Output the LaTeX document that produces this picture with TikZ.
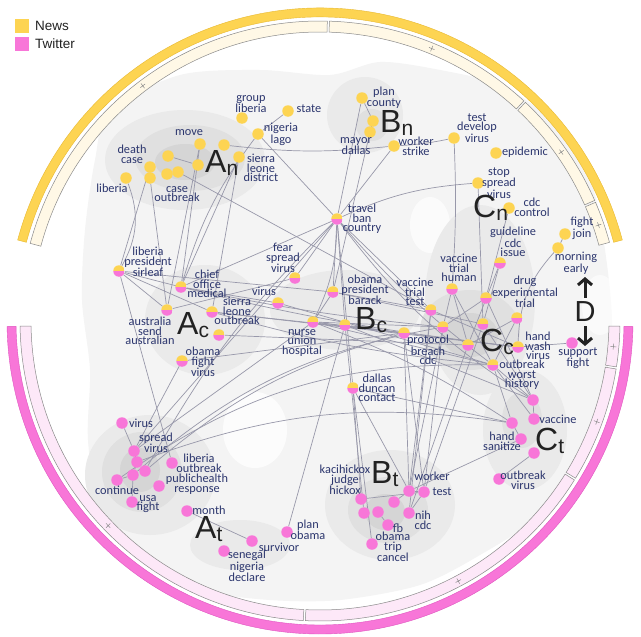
\documentclass[tikz,border=0pt]{standalone}
\usepackage{fontspec}
\setmainfont{Liberation Sans}
\newfontfamily\labfont{Carlito}
\usetikzlibrary{calc,arrows.meta}
\definecolor{nyel}{HTML}{FDD452}
\definecolor{nyeld}{HTML}{E8B830}
\definecolor{tpink}{HTML}{F876D8}
\definecolor{tpinkd}{HTML}{E055C0}
\definecolor{paley}{HTML}{FFF8E6}
\definecolor{palep}{HTML}{FDE8F8}
\definecolor{ringg}{HTML}{8A8A8A}
\definecolor{labc}{RGB}{44,54,110}
\definecolor{edgec}{HTML}{9898AA}
\definecolor{bigc}{HTML}{222222}
\definecolor{bga}{HTML}{F4F4F4}
\definecolor{ga}{HTML}{EAEAEA}
\definecolor{gb}{HTML}{E0E0E0}
\definecolor{gc}{HTML}{D5D5D5}
\pgfdeclarelayer{bg}
\pgfdeclarelayer{edges}
\pgfsetlayers{bg,edges,main}
\newcommand\sublet[1]{\raisebox{-3pt}{\fontsize{21}{21}\selectfont #1}}
\begin{document}
\begin{tikzpicture}[x=1pt,y=-1pt,
 ydot/.style={circle,fill=nyel,minimum size=11.5pt,inner sep=0pt},
 pdot/.style={circle,fill=tpink,minimum size=11.5pt,inner sep=0pt},
 hdot/.style={circle,minimum size=11.5pt,inner sep=0pt,path picture={
   \fill[nyel] (path picture bounding box.north west) rectangle (path picture bounding box.east);
   \fill[tpink] (path picture bounding box.west) rectangle (path picture bounding box.south east);}},
 lab/.style={inner sep=0pt,align=center,text=labc,font=\labfont\fontsize{12.3}{9.6}\selectfont},
 edge/.style={draw=edgec,line width=0.7pt},
 big/.style={anchor=base west,inner sep=0pt,text=bigc,font=\fontsize{32}{32}\selectfont},
 darr/.style={draw=bigc,line width=3pt,-{Straight Barb[length=6pt,width=14pt,line width=3pt]}},
 legt/.style={anchor=west,inner sep=0pt,text=bigc,font=\fontsize{13.5}{14}\selectfont},
]
\useasboundingbox (0,0) rectangle (641,637);

% ---------------- background density + ring
\begin{pgfonlayer}{bg}
\fill[white] (0,0) rectangle (641,637);
\fill[bga] plot[smooth cycle] coordinates {(110,110) (180,75) (260,70) (330,75) (380,62) (440,70) (500,85) (550,120) (590,180) (605,250) (612,330) (600,400) (575,460) (540,515) (480,555) (420,585) (340,600) (270,600) (200,590) (140,560) (100,510) (88,440) (90,370) (82,300) (85,230) (95,160)};
\fill[white,opacity=0.8] (255,430) ellipse (32 and 38);
\fill[white,opacity=0.7] (430,225) ellipse (20 and 28);
\fill[white,opacity=0.6] (600,305) ellipse (18 and 30);
\fill[ga] (185,160) ellipse (80 and 50);
\fill[gb] (190,158) ellipse (55 and 33);
\fill[gc] (185,162) ellipse (30 and 18);
\fill[ga] (365,115) ellipse (38 and 38);
\fill[gb] (372,125) ellipse (16 and 16);
\fill[ga] (205,320) ellipse (60 and 55);
\fill[ga] (345,310) ellipse (75 and 40);
\fill[ga] (480,300) ellipse (55 and 95);
\fill[gb] (470,330) ellipse (50 and 40);
\fill[gc] (470,335) ellipse (28 and 22);
\fill[ga] (150,475) ellipse (65 and 60);
\fill[gb] (142,472) ellipse (40 and 40);
\fill[gc] (140,470) ellipse (20 and 22);
\fill[ga] (240,545) ellipse (50 and 25);
\fill[ga] (390,505) ellipse (65 and 55);
\fill[gb] (388,510) ellipse (40 and 33);
\fill[gc] (385,512) ellipse (20 and 18);
\fill[ga] (525,430) ellipse (42 and 60);
\fill[gb] (522,420) ellipse (20 and 28);

\begin{scope}[shift={(320,321)},y=1pt]
 \filldraw[fill=nyel,draw=nyeld,line width=0.4pt] (15:313) arc[start angle=15,end angle=165,radius=313] -- (165:304) arc[start angle=165,end angle=15,radius=304] -- cycle;
 \foreach \a/\b in {15.2/23.3, 23.7/46.8, 47.2/88.2, 88.6/165}
   \filldraw[fill=paley,draw=ringg,line width=0.5pt] (\a:300) arc[start angle=\a,end angle=\b,radius=300] -- (\b:289) arc[start angle=\b,end angle=\a,radius=289] -- cycle;
 \foreach \p in {19,35,67.7,127}
   \draw[ringg,line width=0.5pt,rotate=\p] (291.5,0) -- (297.5,0) (294.5,-3) -- (294.5,3);
 \filldraw[fill=tpink,draw=tpinkd,line width=0.4pt] (-1:313) arc[start angle=-1,end angle=-179,radius=313] -- (-179:304) arc[start angle=-179,end angle=-1,radius=304] -- cycle;
 \foreach \a/\b in {-179/-93.2, -92.8/-32, -31.6/-9.2, -8.8/-1}
   \filldraw[fill=palep,draw=ringg,line width=0.5pt] (\a:300) arc[start angle=\a,end angle=\b,radius=300] -- (\b:289) arc[start angle=\b,end angle=\a,radius=289] -- cycle;
 \foreach \p in {-136,-62,-20,-5}
   \draw[ringg,line width=0.5pt,rotate=\p] (291.5,0) -- (297.5,0) (294.5,-3) -- (294.5,3);
\end{scope}
\end{pgfonlayer}

% ---------------- legend
\node[fill=nyel,minimum size=14pt,inner sep=0pt] (legn) at (22,26) {};
\node[legt] (legnt) at (35,26) {News};
\node[fill=tpink,minimum size=14pt,inner sep=0pt] (legt) at (22,44) {};
\node[legt] (legtt) at (35,44) {Twitter};

% ---------------- An cluster
\node[ydot] (gl) at (242,118) {};
\node[lab] (gl-l) at (251,104) {group\\liberia};
\node[ydot] (st) at (288,111) {};
\node[lab] (st-l) at (309,109) {state};
\node[ydot] (nl) at (258,134) {};
\node[lab] (nl-l) at (281,134) {nigeria\\lago};
\node[ydot] (mv) at (200,144) {};
\node[lab] (mv-l) at (189,133) {move};
\node[ydot] (a1) at (224,145) {};
\node[ydot] (sld) at (239,157) {};
\node[lab] (sld-l) at (261,168) {sierra\\leone\\district};
\node[ydot] (a2) at (198,165) {};
\node[ydot] (a3) at (168,156) {};
\node[lab] (dc-l) at (132,154) {death\\case};
\node[ydot] (dc) at (150,167) {};
\node[ydot] (a4) at (167,174) {};
\node[ydot] (a5) at (178,172) {};
\node[ydot] (a6) at (150,178) {};
\node[ydot] (lib) at (126,178) {};
\node[lab] (lib-l) at (112,188) {liberia};
\node[lab] (co-l) at (177,194) {case\\outbreak};

% ---------------- Bn cluster
\node[ydot] (pc) at (362,98) {};
\node[lab] (pc-l) at (384,98) {plan\\county};
\node[ydot] (b1) at (373,121) {};
\node[ydot] (b2) at (370,132) {};
\node[lab] (md-l) at (356,146) {mayor\\dallas};
\node[ydot] (ws) at (394,146) {};
\node[lab] (ws-l) at (416,146) {worker\\strike};
\node[ydot] (tdv) at (454,138) {};
\node[lab] (tdv-l) at (477,128) {test\\develop\\virus};
\node[ydot] (epi) at (496,153) {};
\node[lab] (epi-l) at (525,152) {epidemic};

% ---------------- Cn cluster
\node[ydot] (ssv) at (478,183) {};
\node[lab] (ssv-l) at (499,183) {stop\\spread\\virus};
\node[ydot] (cc) at (509,208) {};
\node[lab] (cc-l) at (532,207) {cdc\\control};
\node[lab] (gci-l) at (513,242) {guideline\\cdc\\issue};
\node[hdot] (gci) at (500,263) {};
\node[ydot] (fj) at (565,234) {};
\node[lab] (fj-l) at (582,228) {fight\\join};
\node[ydot] (me) at (558,248) {};
\node[lab] (me-l) at (576,263) {morning\\early};
\node[lab] (vth-l) at (459,268) {vaccine\\trial\\human};
\node[hdot] (vth) at (452,289) {};

% ---------------- Cc cluster
\node[lab] (det-l) at (525,292) {drug\\experimental\\trial};
\node[hdot] (det) at (486,298) {};
\node[lab] (vtt-l) at (415,292) {vaccine\\trial\\test};
\node[hdot] (vtt) at (431,310) {};
\node[hdot] (h1) at (443,327) {};
\node[hdot] (h2) at (483,324) {};
\node[hdot] (h3) at (517,318) {};
\node[hdot] (pbc) at (404,333) {};
\node[lab] (pbc-l) at (428,350) {protocol\\breach\\cdc};
\node[hdot] (h4) at (468,345) {};
\node[hdot] (hwv) at (518,347) {};
\node[lab] (hwv-l) at (538,346) {hand\\wash\\virus};
\node[pdot] (sf) at (572,343) {};
\node[lab] (sf-l) at (578,358) {support\\fight};
\node[hdot] (owh) at (493,365) {};
\node[lab] (owh-l) at (522,375) {outbreak\\worst\\history};

% ---------------- Ct cluster
\node[pdot] (t1) at (533,400) {};
\node[pdot] (vac) at (534,419) {};
\node[lab] (vac-l) at (558,419) {vaccine};
\node[pdot] (t2) at (512,423) {};
\node[pdot] (hs) at (521,439) {};
\node[lab] (hs-l) at (502,441) {hand\\sanitize};
\node[pdot] (t3) at (534,453) {};
\node[pdot] (ov) at (499,479) {};
\node[lab] (ov-l) at (523,480) {outbreak\\virus};

% ---------------- center
\node[hdot] (tbc) at (337,219) {};
\node[lab] (tbc-l) at (362,219) {travel\\ban\\country};
\node[lab] (fsv-l) at (283,258) {fear\\spread\\virus};
\node[hdot] (fsv) at (295,278) {};
\node[hdot] (opb) at (333,292) {};
\node[lab] (opb-l) at (365,290) {obama\\president\\barack};
\node[lab] (vir-l) at (264,291) {virus};
\node[hdot] (vir) at (278,303) {};
\node[hdot] (nuh) at (313,322) {};
\node[lab] (nuh-l) at (302,343) {nurse\\union\\hospital};
\node[hdot] (h5) at (345,325) {};
\node[hdot] (ddc) at (353,388) {};
\node[lab] (ddc-l) at (377,388) {dallas\\duncan\\contact};

% ---------------- Ac cluster
\node[hdot] (lps) at (119,271) {};
\node[lab] (lps-l) at (148,262) {liberia\\president\\sirleaf};
\node[hdot] (com) at (181,287) {};
\node[lab] (com-l) at (207,284) {chief\\office\\medical};
\node[hdot] (asa) at (167,310) {};
\node[lab] (asa-l) at (150,331) {australia\\send\\australian};
\node[hdot] (slo) at (212,312) {};
\node[lab] (slo-l) at (237,311) {sierra\\leone\\outbreak};
\node[hdot] (h6) at (219,335) {};
\node[hdot] (ofv) at (182,361) {};
\node[lab] (ofv-l) at (203,362) {obama\\fight\\virus};

% ---------------- At cluster
\node[pdot] (tv) at (122,423) {};
\node[lab] (tv-l) at (141,423) {virus};
\node[lab] (sv-l) at (156,443) {spread\\virus};
\node[pdot] (sv) at (134,451) {};
\node[pdot] (p1) at (137,462) {};
\node[pdot] (p2) at (133,475) {};
\node[pdot] (p3) at (145,471) {};
\node[pdot] (con) at (117,480) {};
\node[lab] (con-l) at (117,490) {continue};
\node[pdot] (uf) at (132,502) {};
\node[lab] (uf-l) at (148,504) {usa\\fight};
\node[pdot] (lo) at (172,463) {};
\node[lab] (lo-l) at (199,463) {liberia\\outbreak};
\node[pdot] (phr) at (159,486) {};
\node[lab] (phr-l) at (197,484) {publichealth\\response};
\node[pdot] (mon) at (187,511) {};
\node[lab] (mon-l) at (209,510) {month};
\node[pdot] (sur) at (252,541) {};
\node[lab] (sur-l) at (279,547) {survivor};
\node[pdot] (snd) at (224,551) {};
\node[lab] (snd-l) at (247,566) {senegal\\nigeria\\declare};
\node[pdot] (po) at (287,532) {};
\node[lab] (po-l) at (308,530) {plan\\obama};

% ---------------- Bt cluster
\node[lab] (kjh-l) at (345,480) {kacihickox\\judge\\hickox};
\node[pdot] (kjh) at (361,499) {};
\node[lab] (wk-l) at (432,476) {worker};
\node[pdot] (wk) at (409,491) {};
\node[pdot] (tst) at (424,492) {};
\node[lab] (tst-l) at (442,492) {test};
\node[pdot] (q1) at (394,502) {};
\node[pdot] (q2) at (364,513) {};
\node[pdot] (q3) at (378,512) {};
\node[pdot] (nc) at (409,513) {};
\node[lab] (nc-l) at (423,520) {nih\\cdc};
\node[pdot] (fb) at (388,525) {};
\node[lab] (fb-l) at (398,528) {fb};
\node[pdot] (otc) at (372,544) {};
\node[lab] (otc-l) at (393,547) {obama\\trip\\cancel};

% ---------------- cluster letters
\node[big] (An) at (205,172) {A\sublet{n}};
\node[big] (Bn) at (380,132) {B\sublet{n}};
\node[big] (Cn) at (473,217) {C\sublet{n}};
\node[big] (Ac) at (177,334) {A\sublet{c}};
\node[big] (Bc) at (355,329) {B\sublet{c}};
\node[big] (Cc) at (480,351) {C\sublet{c}};
\node[big] (At) at (195,538) {A\sublet{t}};
\node[big] (Bt) at (371,483) {B\sublet{t}};
\node[big] (Ct) at (535,450) {C\sublet{t}};
\node[inner sep=0pt,text=bigc,font=\fontsize{29}{29}\selectfont] (D) at (585,312) {D};
\coordinate (Dup) at (585,277);
\coordinate (Ddn) at (585,346);
\draw[darr,shorten <=4pt] (D) -- (Dup);
\draw[darr,shorten <=4pt] (D) -- (Ddn);

% ---------------- edges
\begin{pgfonlayer}{edges}
\foreach \u/\v in {st/nl, nl/tbc, sld/com, mv/com, a2/a3, a5/vtt, pc/tbc, pc/b1, b1/b2, b2/opb, ws/tbc, ssv/h2, cc/det, gci/h2, gci/h4, fj/me, tbc/fsv, tbc/com, tbc/opb, tbc/ddc, tbc/h5, tbc/vtt, tbc/sv, lps/opb, lps/slo, lps/lo, lps/asa, com/vir, asa/fsv, slo/pbc, slo/hwv, h6/h4, ofv/pbc, ofv/sv, nuh/pbc, nuh/h1, nuh/hwv, nuh/owh, h5/po, h5/t1, h5/pbc, opb/nuh, opb/h2, opb/vtt, vir/owh, ddc/t2, ddc/kjh, ddc/wk, vtt/hwv, vtt/nc, vth/h4, vth/h1, vth/owh, det/h1, det/t1, h3/owh, h3/h4, pbc/wk, pbc/tst, h1/tst, h4/nc, h2/t1, owh/t1, owh/t2, owh/vac, hwv/sf, t1/vac, t3/ov, t2/hs, hs/wk, tv/sv, sv/p1, p1/p2, p2/con, uf/p2, mon/sur, kjh/tst, q1/wk, wk/tst, q3/fb, otc/ddc, q2/h5, nc/tst, wk/h1, tst/h2, wk/vtt, sv/nuh, mv/asa, sld/slo, a6/asa, dc/lps}
  \draw[edge] (\u) -- (\v);
\draw[edge] (a1) to[bend right=6] (ws);
\draw[edge] (ws) to[bend right=4] (tdv);
\draw[edge] (tdv) to[bend left=3] (vth);
\draw[edge] (lib) to[bend left=25] (lps);
\draw[edge] (nl) to[bend right=10] (com);
\draw[edge] (ssv) to[bend right=10] (tbc);
\draw[edge] (me) to[bend right=20] (hwv);
\draw[edge] (tbc) to[bend left=12] (nuh);
\draw[edge] (tbc) to[bend right=6] (owh);
\draw[edge] (tbc) to[bend right=10] (t1);
\draw[edge] (tbc) to[bend right=8] (p3);
\draw[edge] (lps) to[bend right=4] (hwv);
\draw[edge] (com) to[bend right=3] (h1);
\draw[edge] (slo) to[bend right=5] (owh);
\draw[edge] (nuh) to[bend left=6] (t2);
\draw[edge] (p2) to[bend left=15] (h1);
\draw[edge] (p3) to[bend left=12] (pbc);
\draw[edge] (con) to[bend left=18] (owh);
\draw[edge] (p1) to[bend left=14] (t2);
\end{pgfonlayer}
\end{tikzpicture}
\end{document}
